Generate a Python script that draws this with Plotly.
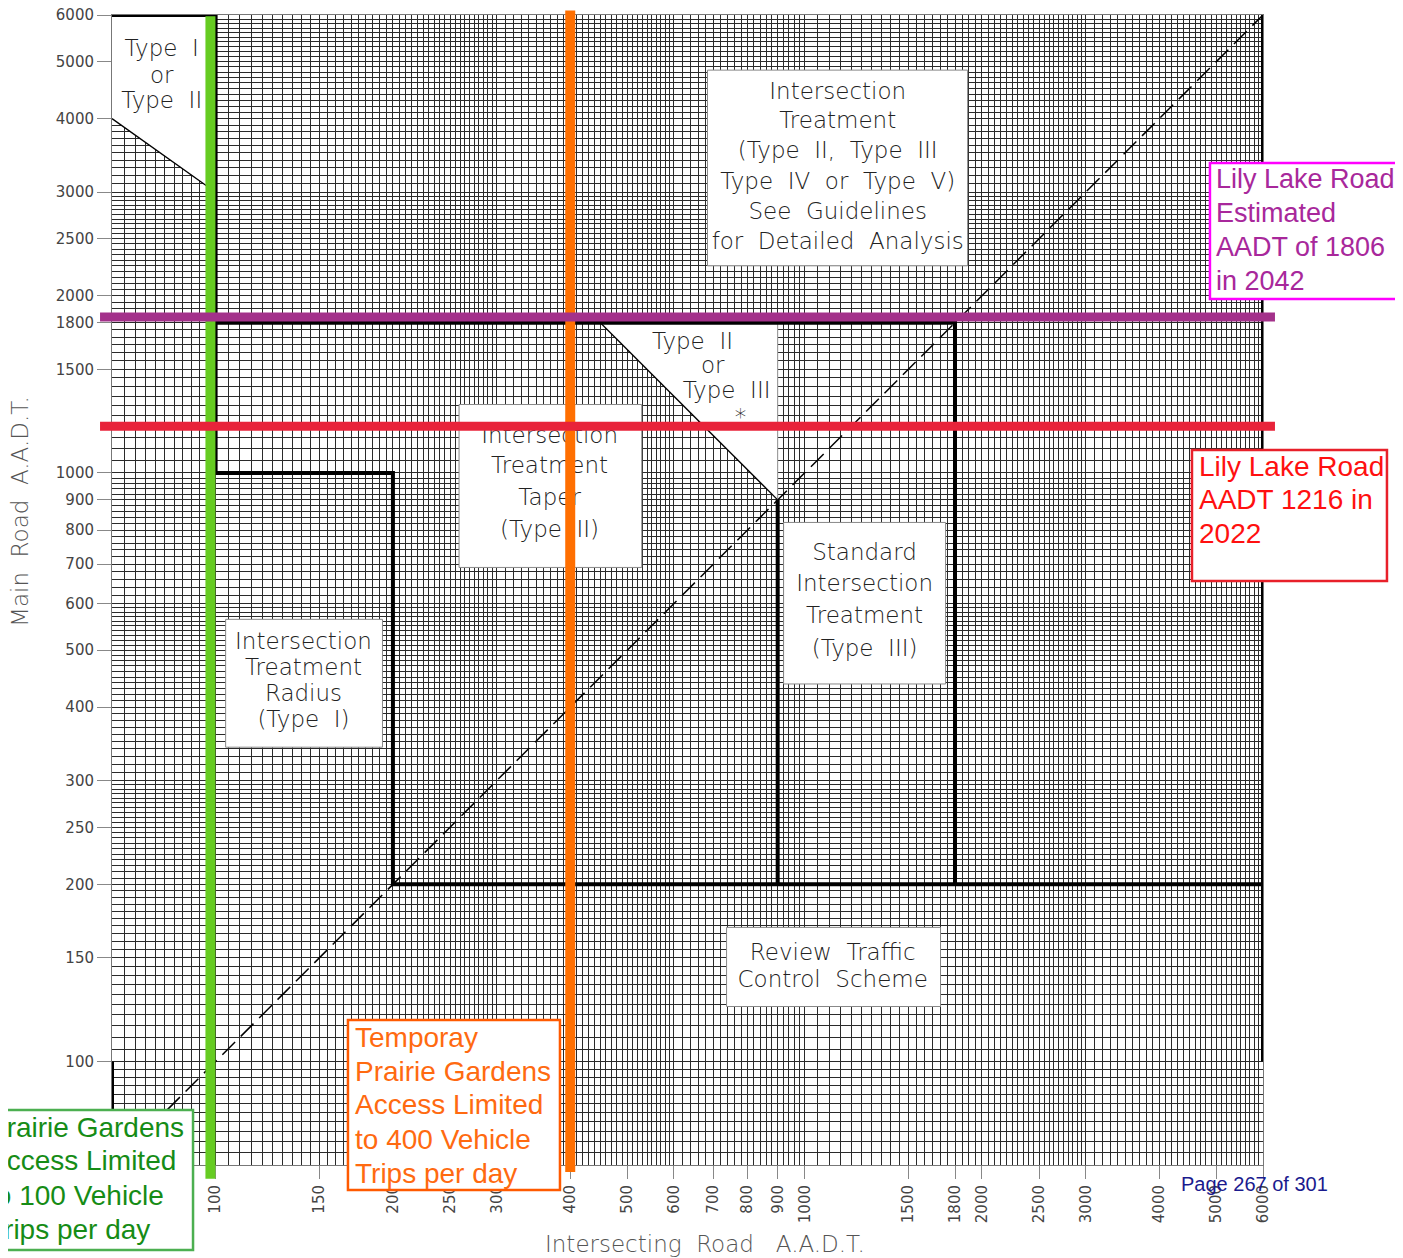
import numpy as np
import plotly.graph_objects as go

# axis ticks, same on both axes
tick_vals = [100, 150, 200, 250, 300, 400, 500, 600, 700, 800, 900,
             1000, 1500, 1800, 2000, 2500, 3000, 4000, 5000, 6000]
tick_text = [str(v) for v in tick_vals]

# log paper rulings
grid_vals = (list(range(70, 100, 3)) + list(range(100, 300, 5)) + list(range(300, 600, 10))
             + list(range(600, 1000, 20)) + list(range(1000, 3000, 50)) + list(range(3000, 6001, 100)))

axis_min = 66.7
axis_max = 6000

# treatment region outlines (intersecting AADT, main AADT)
bound_x = [axis_min, 100, None, 100, 100, 200, 200, 6000, None, 100, 1800, 1800, None,
           900, 900, None, 6000, 6000, None, axis_min, axis_min]
bound_y = [6000, 6000, None, 6000, 1000, 1000, 200, 200, None, 1800, 1800, 200, None,
           900, 200, None, 6000, 100, None, 100, axis_min]

type1_x = [axis_min, 100, 100, axis_min, axis_min]
type1_y = [6000, 6000, 3000, 4000, 6000]
tri_x = [450, 900, 900, 450]
tri_y = [1800, 1800, 900, 1800]

# label boxes: x0, x1, y0, y1
boxes = {
    "detailed": (684, 1891, 2249, 4836),
    "taper": (259, 529, 691, 1307),
    "standard": (921, 1735, 438, 824),
    "radius": (104, 192, 342, 564),
    "review": (737, 1701, 124, 169),
}

label_text = ["Intersection", "Treatment", "(Type  II,  Type  III", "Type  IV  or  Type  V)",
              "See  Guidelines", "for  Detailed  Analysis",
              "Intersection", "Treatment", "Taper", "(Type  II)",
              "Standard", "Intersection", "Treatment", "(Type  III)",
              "Intersection", "Treatment", "Radius", "(Type  I)",
              "Review  Traffic", "Control  Scheme",
              "Type  II", "or", "Type  III", "*",
              "Type  I", "or", "Type  II"]
label_x = [1138] * 6 + [369] * 4 + [1264] * 4 + [141] * 4 + [1116] * 2 + [645, 698, 737, 778] + [81] * 3
label_y = [4420, 3950, 3510, 3110, 2760, 2460,
           1149, 1022, 902, 796,
           727, 645, 569, 500,
           514, 464, 419, 379,
           152, 137,
           1659, 1510, 1370, 1233,
           5230, 4700, 4270]

# Lily Lake Road and Prairie Gardens lines
green_x = 98
orange_x = 400
purple_y = 1840
red_y = 1200

# callout notes: lines, colours, box (paper coords x0, x1, y0, y1), text left, line y, size
callouts = [
    (["Lily Lake Road", "Estimated", "AADT of 1806", "in 2042"], "#A8289B", "#FF00FF",
     (0.9539, 1.13, 0.7530, 0.8713), 0.9575, [0.8574, 0.8278, 0.7983, 0.7687], 27),
    (["Lily Lake Road", "AADT 1216 in", "2022"], "#FF1010", "#E8202A",
     (0.9383, 1.1077, 0.5078, 0.6217), 0.9427, [0.6078, 0.5783, 0.5487], 28),
    (["Temporay", "Prairie Gardens", "Access Limited", "to 400 Vehicle", "Trips per day"],
     "#FF6A10", "#FF5A00",
     (0.2050, 0.3892, -0.0217, 0.1261), 0.2094, [0.1113, 0.0817, 0.0522, 0.0226, -0.0070], 28),
    (["Prairie Gardens", "Access Limited", "to 100 Vehicle", "Trips per day"], "#168C16", "#4CAF50",
     (-0.12, 0.0704, -0.0739, 0.0478), -0.1095, [0.0330, 0.0035, -0.0261, -0.0557], 28),
]

grid_color = "#2a2a2a"
label_font = dict(family="DejaVu Sans", size=23, color="#222", weight=200)
callout_font = "Liberation Sans, Arial, sans-serif"

fig = go.Figure()

# white regions
fig.add_trace(go.Scatter(x=type1_x, y=type1_y, fill="toself", fillcolor="white",
                         mode="lines", line=dict(color="rgba(0,0,0,0)", width=0)))
fig.add_trace(go.Scatter(x=tri_x, y=tri_y, fill="toself", fillcolor="white",
                         mode="lines", line=dict(color="rgba(0,0,0,0)", width=0)))
for b in boxes.values():
    x0, x1, y0, y1 = b
    fig.add_trace(go.Scatter(x=[x0, x1, x1, x0, x0], y=[y0, y0, y1, y1, y0],
                             fill="toself", fillcolor="white", mode="lines",
                             line=dict(color="#888", width=1)))

# thin edges
fig.add_trace(go.Scatter(x=[axis_min, 100, None, 450, 900], y=[4000, 3000, None, 1800, 900],
                         mode="lines", line=dict(color="black", width=1.3)))
fig.add_trace(go.Scatter(x=[900, 900], y=[1800, 900], mode="lines",
                         line=dict(color="#999", width=1)))

# equal volume line
fig.add_trace(go.Scatter(x=[axis_min, axis_max], y=[axis_min, axis_max], mode="lines",
                         line=dict(color="black", width=1.5, dash="18px,8px")))

# heavy outlines
fig.add_trace(go.Scatter(x=bound_x, y=bound_y, mode="lines",
                         line=dict(color="black", width=4), connectgaps=False))

# labels
fig.add_trace(go.Scatter(x=label_x, y=label_y, mode="text", text=label_text,
                         textfont=label_font, textposition="middle center"))

fig.update_traces(hoverinfo="skip", showlegend=False)

# coloured marker lines
shapes = [
    dict(type="line", xref="x", yref="paper", x0=green_x, x1=green_x, y0=-0.012, y1=0.999,
         line=dict(color="#66CC22", width=10)),
    dict(type="line", xref="x", yref="paper", x0=orange_x, x1=orange_x, y0=-0.006, y1=1.004,
         line=dict(color="#FF6F00", width=10)),
    dict(type="line", xref="paper", yref="y", x0=-0.0104, x1=1.0104, y0=purple_y, y1=purple_y,
         line=dict(color="#A3318A", width=9)),
    dict(type="line", xref="paper", yref="y", x0=-0.0104, x1=1.0104, y0=red_y, y1=red_y,
         line=dict(color="#E8233A", width=9)),
]

annotations = []
for lines, tcol, bcol, box, tx, ys, size in callouts:
    shapes.append(dict(type="rect", xref="paper", yref="paper",
                       x0=box[0], x1=box[1], y0=box[2], y1=box[3],
                       fillcolor="white", line=dict(color=bcol, width=2.5), layer="above"))
    for line, ly in zip(lines, ys):
        annotations.append(dict(text=line, xref="paper", yref="paper", x=tx, y=ly,
                                xanchor="left", yanchor="middle", showarrow=False,
                                font=dict(family=callout_font, size=size, color=tcol)))

annotations += [
    dict(text="Page 267 of 301", xref="paper", yref="paper", x=0.993, y=-0.0165,
         xanchor="center", yanchor="middle", showarrow=False,
         font=dict(family=callout_font, size=20, color="#1A1A8E")),
    dict(text="Main\u00a0\u00a0Road\u00a0\u00a0A.A.D.T.", xref="paper", yref="paper",
         x=-0.08, y=0.5687, textangle=-90, showarrow=False, xanchor="center", yanchor="middle",
         font=dict(family="DejaVu Sans", size=23, color="#555", weight=200)),
    dict(text="Intersecting\u00a0\u00a0Road\u00a0\u00a0\u00a0A.A.D.T.", xref="paper", yref="paper",
         x=0.515, y=-0.069, showarrow=False, xanchor="center", yanchor="middle",
         font=dict(family="DejaVu Sans", size=23, color="#555", weight=200)),
]

axis_common = dict(
    type="log", range=[np.log10(axis_min), np.log10(axis_max)],
    tickmode="array", tickvals=tick_vals, ticktext=tick_text,
    ticks="outside", tickcolor="#888", tickwidth=1,
    showgrid=True, gridcolor=grid_color, gridwidth=1,
    minor=dict(tickmode="array", tickvals=grid_vals, showgrid=True,
               gridcolor=grid_color, gridwidth=1, ticks=""),
    showline=True, linecolor="#777", linewidth=1, mirror=True, zeroline=False,
    automargin=False, ticklabeloverflow="allow",
    tickfont=dict(family="DejaVu Sans", size=15, color="#444"),
)

# page body has an 8px margin, so the figure is 8px smaller and margins shifted
fig.update_layout(
    width=1395, height=1250,
    margin=dict(l=104, r=140, t=7, b=93),
    plot_bgcolor="white", paper_bgcolor="white",
    showlegend=False,
    shapes=shapes,
    annotations=annotations,
    xaxis=dict(axis_common, tickangle=-90, ticklen=13),
    yaxis=dict(axis_common, ticklen=14),
)

fig.write_html("out.html")
